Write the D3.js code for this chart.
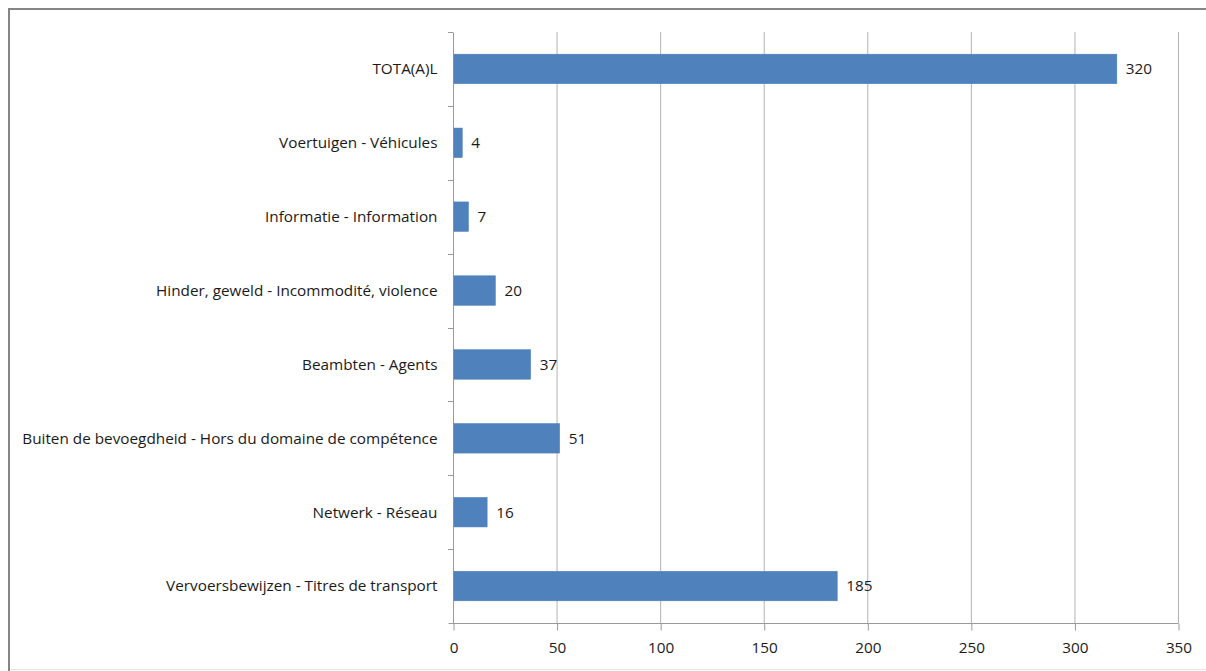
<!DOCTYPE html>
<html><head><meta charset="utf-8">
<script src="https://cdn.jsdelivr.net/npm/d3@7"></script>
<style>html,body{margin:0;padding:0;background:#fff;}svg{display:block;}</style>
</head><body>
<svg id="c" width="1206" height="671"></svg>
<script>
const categories = ["TOTA(A)L","Voertuigen - Véhicules","Informatie - Information","Hinder, geweld - Incommodité, violence","Beambten - Agents","Buiten de bevoegdheid - Hors du domaine de compétence","Netwerk - Réseau","Vervoersbewijzen - Titres de transport"];
const values = [320,4,7,20,37,51,16,185];
const xTicks = [0,50,100,150,200,250,300,350];

(function(){
const svg = d3.select("#c");
const font = "'Open Sans', 'Liberation Sans', sans-serif";
const fs = "15.3px";
const pLeft = 453, pRight = 1178, pTop = 32, pBottom = 623;

// frame
svg.append("rect").attr("x",9).attr("y",9).attr("width",1220).attr("height",700)
  .attr("fill","none").attr("stroke","#858585").attr("stroke-width",2);
svg.append("line").attr("x1",10).attr("x2",1206).attr("y1",669.5).attr("y2",669.5).attr("stroke","#e3e3e3");

const x = d3.scaleLinear().domain([0,350]).range([pLeft,pRight]);
const y = d3.scaleBand().domain(categories).range([pTop,pBottom]).paddingInner(0.6).paddingOuter(0.3);

// gridlines
svg.append("g").selectAll("line").data(xTicks.slice(1)).join("line")
  .attr("x1",d=>x(d)+0.5).attr("x2",d=>x(d)+0.5).attr("y1",pTop).attr("y2",pBottom)
  .attr("stroke","#b3b3b3").attr("stroke-width",1);

// x axis
const xa = svg.append("g").attr("transform",`translate(0.5,${pBottom+0.5})`)
  .call(d3.axisBottom(x).tickValues(xTicks).tickSize(7).tickPadding(12));
xa.select(".domain").attr("stroke","#9a9a9a").attr("d",`M${pLeft-5},0H${pRight}`);
xa.selectAll(".tick line").attr("stroke","#9a9a9a");
xa.selectAll("text").attr("font-family",font).attr("font-size",fs).attr("fill","#1a1a1a");

// y axis
const step = (pBottom-pTop)/categories.length;
const ya = svg.append("g").attr("transform",`translate(${pLeft+0.5},0.5)`)
  .call(d3.axisLeft(y).tickSize(0).tickPadding(16));
ya.select(".domain").attr("stroke","#9a9a9a").attr("d",`M0,${pTop}V${pBottom}`);
ya.selectAll("text").attr("font-family",font).attr("font-size",fs).attr("fill","#1a1a1a");
svg.append("g").selectAll("line").data(d3.range(categories.length)).join("line")
  .attr("x1",pLeft-5).attr("x2",pLeft).attr("y1",i=>Math.round(pTop+step*i)+0.5).attr("y2",i=>Math.round(pTop+step*i)+0.5)
  .attr("stroke","#9a9a9a");

// bars
svg.append("g").selectAll("rect").data(values).join("rect")
  .attr("x",x(0)+1).attr("y",(d,i)=>y(categories[i]))
  .attr("width",d=>x(d)-x(0)).attr("height",y.bandwidth())
  .attr("fill","#4f81bd").attr("stroke","#4a7ebb").attr("stroke-width",0.5);

// value labels
svg.append("g").selectAll("text").data(values).join("text")
  .attr("x",d=>x(d)+10).attr("y",(d,i)=>y(categories[i])+y.bandwidth()/2)
  .attr("dy","0.35em").attr("font-family",font).attr("font-size",fs).attr("fill","#1a1a1a")
  .text(d=>d);
})();
</script>
</body></html>
